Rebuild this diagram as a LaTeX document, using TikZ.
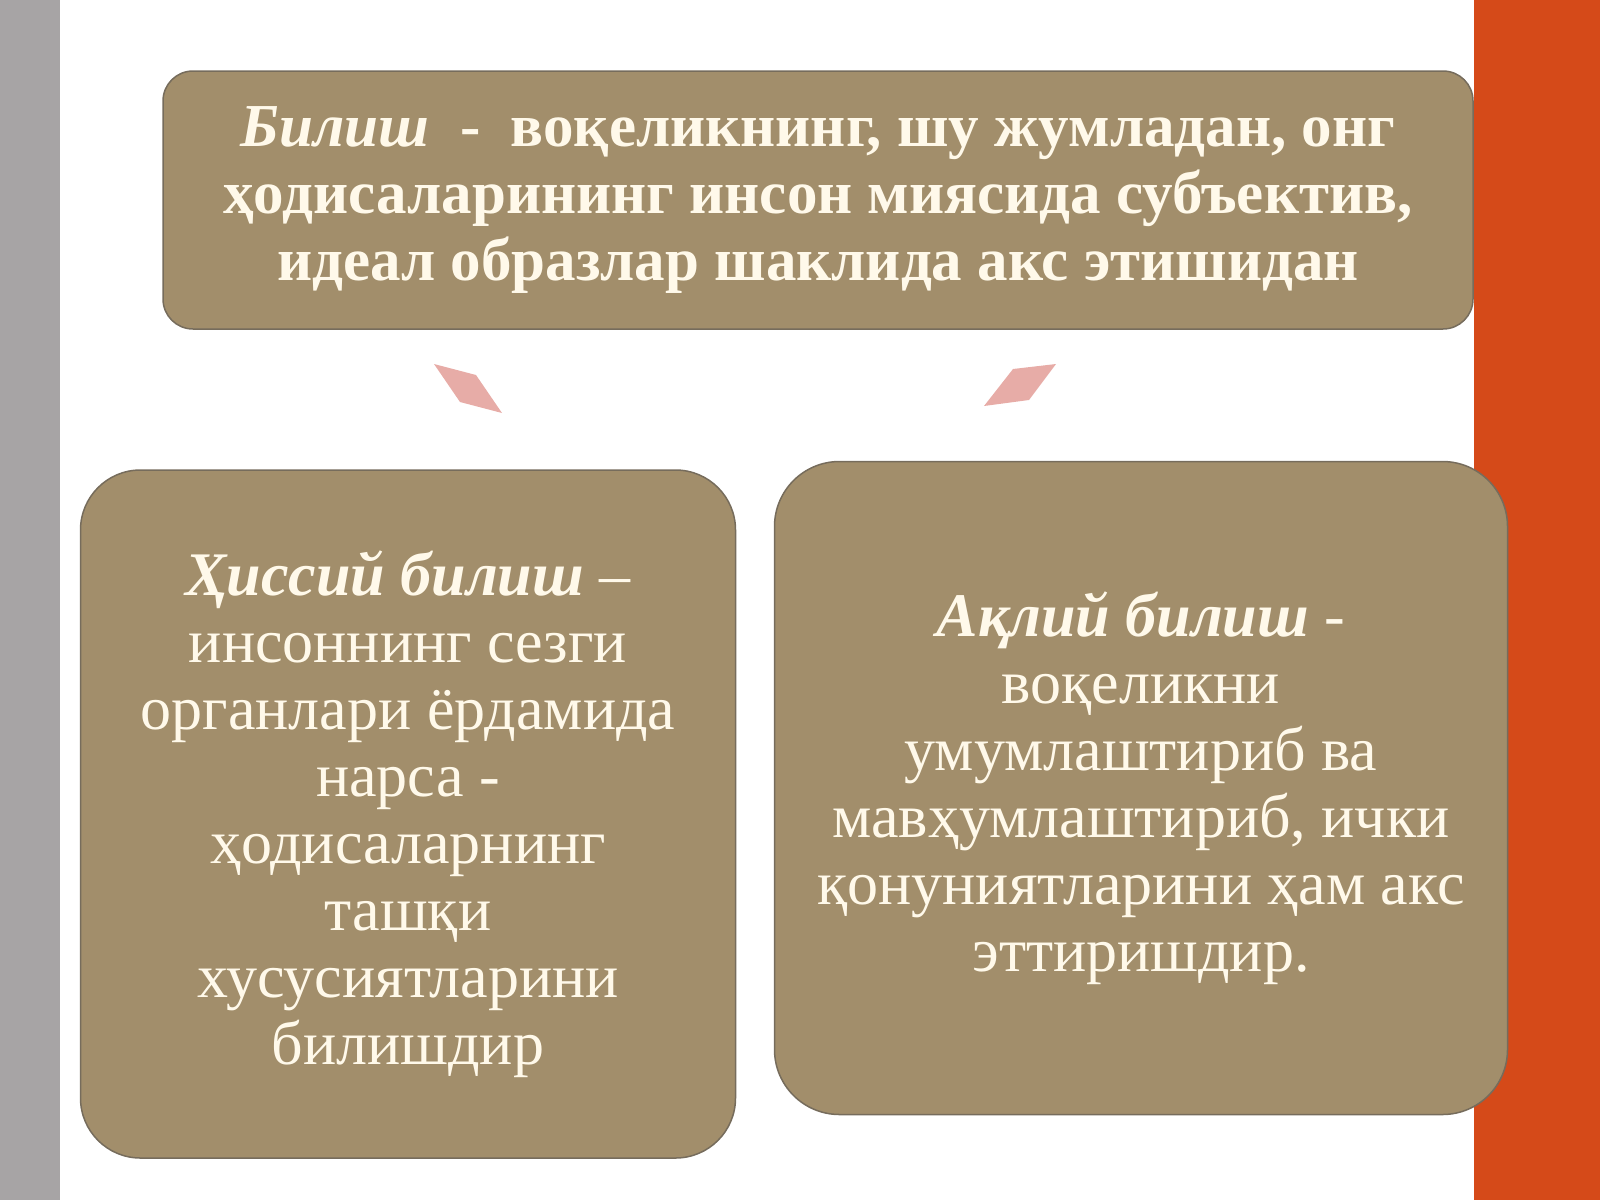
\documentclass[tikz,border=0pt]{standalone}
\usepackage{fontspec}
\setmainfont{Liberation Serif}
\definecolor{boxtan}{HTML}{A28E6B}
\definecolor{boxline}{HTML}{766C5C}
\definecolor{textcream}{HTML}{FFF9EA}
\definecolor{stripgray}{HTML}{A7A4A5}
\definecolor{striporange}{HTML}{D54A19}
\definecolor{arrowpink}{HTML}{E7ACA7}
\begin{document}
\begin{tikzpicture}[x=1pt, y=-1pt,
	  card/.style={draw=boxline, line width=1.5pt, fill=boxtan, text=textcream, align=center, inner sep=0pt},
	  bigtext/.style={font=\fontsize{62}{67}\selectfont}]
	  \useasboundingbox (0,0) rectangle (1600,1200);
	  %\fill[white] (0,0) rectangle (1600,1200);
	  \fill[stripgray] (0,0) rectangle (60,1200);
	  \fill[striporange] (1474,0) rectangle (1600,1200);
	  \node[card, rounded corners=30pt, minimum width=1310pt, minimum height=258pt, font=\bfseries\fontsize{61}{67}\selectfont] (bilish) at (818,200)
	    {\textit{Билиш}~~-~~воқеликнинг, шу жумладан, онг\\ ҳодисаларининг инсон миясида субъектив,\\ идеал образлар шаклида акс этишидан};
	  \node[card, bigtext, rounded corners=60pt, minimum width=655pt, minimum height=688pt] (hissiy) at (408,814)
	    {\textbf{\textit{Ҳиссий билиш}} –\\ инсоннинг сезги\\ органлари ёрдамида\\ нарса -\\ ҳодисаларнинг\\ ташқи\\ хусусиятларини\\ билишдир};
	  \node[card, bigtext, rounded corners=65pt, minimum width=733pt, minimum height=653pt] (aqliy) at (1141,788)
	    {\textbf{\textit{Ақлий билиш}} -\\ воқеликни\\ умумлаштириб ва\\ мавҳумлаштириб, ички\\ қонуниятларини ҳам акс\\ эттиришдир.};
	  \fill[arrowpink] (434,364) -- (476,375) -- (502,413) -- (460,402) -- cycle;
	  \fill[arrowpink] (1013,369) -- (1056,364) -- (1029,400) -- (984,406) -- cycle;
	\end{tikzpicture}
\end{document}
